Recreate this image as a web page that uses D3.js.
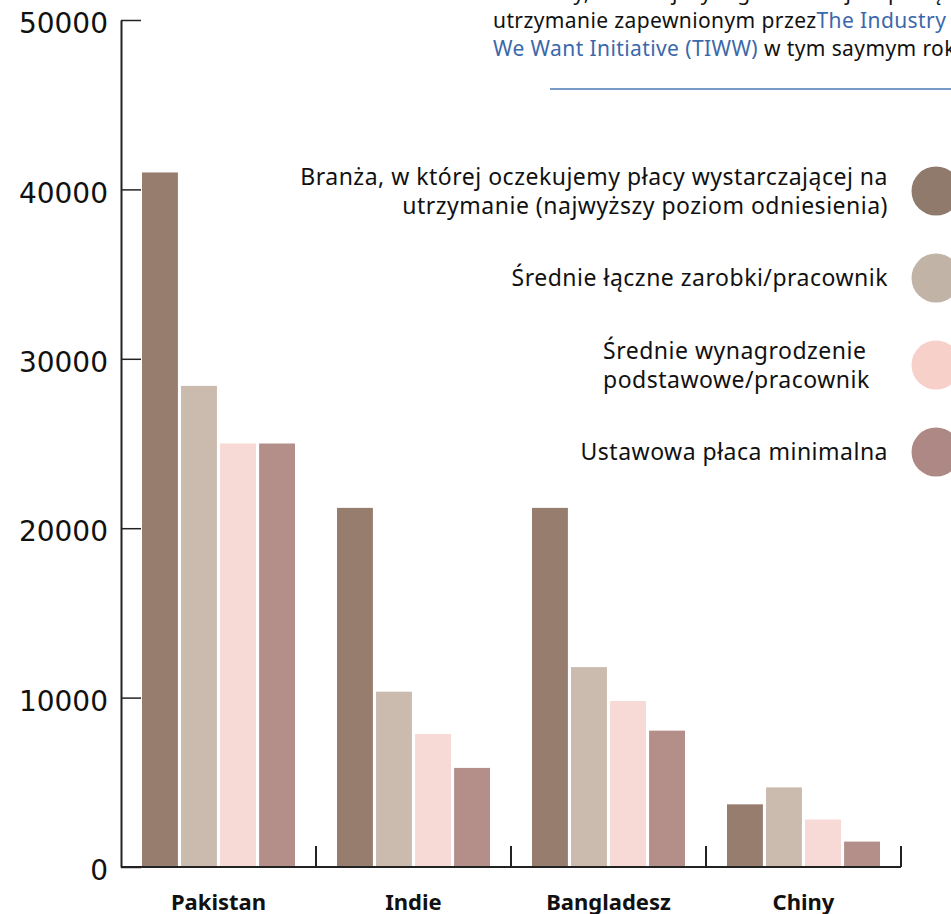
<!DOCTYPE html>
<html>
<head>
<meta charset="utf-8">
<script src="https://cdn.jsdelivr.net/npm/d3@7"></script>
<style>
  html, body { margin: 0; padding: 0; background: #fff; }
  svg { display: block; font-family: "Noto Sans", sans-serif; }
</style>
</head>
<body>
<svg id="chart" width="951" height="914"></svg>
<script>
// ---- data ----
const categories = ["Pakistan", "Indie", "Bangladesz", "Chiny"];
const seriesKeys = ["living", "earnings", "basic", "minimum"];
const livingWage   = [41000, 21200, 21200, 3700];
const avgEarnings  = [28400, 10350, 11800, 4700];
const avgBasic     = [25000, 7850, 9800, 2800];
const minimumWage  = [25000, 5850, 8050, 1500];
const yTicks = [0, 10000, 20000, 30000, 40000, 50000];
const legendLabels = [
  ["Branża, w której oczekujemy płacy wystarczającej na", "utrzymanie (najwyższy poziom odniesienia)"],
  ["Średnie łączne zarobki/pracownik"],
  ["Średnie wynagrodzenie", "podstawowe/pracownik"],
  ["Ustawowa płaca minimalna"]
];
const barColors = ["#977D6E", "#CBBBAF", "#F7D9D5", "#B48F8A"];
const legendColors = ["#8F7A6C", "#C2B3A7", "#F7D0C9", "#AD8885"];

const seriesValues = [livingWage, avgEarnings, avgBasic, minimumWage];
const rows = categories.map((c, i) => ({
  cat: c,
  vals: seriesKeys.map((k, j) => ({ key: k, j, value: seriesValues[j][i] }))
}));

const svg = d3.select("#chart");

// ---- scales ----
const y = d3.scaleLinear().domain([0, 50000]).range([867, 20]);
const x0 = d3.scaleBand().domain(categories).range([121, 901]).padding(0);
const x1 = d3.scaleBand().domain(seriesKeys).range([21, 174]).paddingInner(0.08);
const color = d3.scaleOrdinal().domain(seriesKeys).range(barColors);

// ---- header text (cut at top) ----
const hdr = svg.append("g").attr("font-size", 21).attr("letter-spacing", 0.4).attr("fill", "#111");
hdr.append("text").attr("x", 493).attr("y", 0)
  .text("w branży, w której wynagrodzenie jest płacą wystarczającą na");
const l1 = hdr.append("text").attr("x", 493).attr("y", 28);
l1.append("tspan").text("utrzymanie zapewnionym przez");
l1.append("tspan").attr("fill", "#3B68AA").text("The Industry");
const l2 = hdr.append("text").attr("x", 493).attr("y", 56);
l2.append("tspan").attr("fill", "#3B68AA").text("We Want Initiative (TIWW)");
l2.append("tspan").text(" w tym saymym roku");
svg.append("line").attr("x1", 550).attr("x2", 951).attr("y1", 89).attr("y2", 89)
  .attr("stroke", "#4B78B4").attr("stroke-width", 1.5);

// ---- bars ----
const groups = svg.append("g").selectAll("g").data(rows).join("g")
  .attr("transform", d => `translate(${x0(d.cat)},0)`);
groups.selectAll("rect").data(d => d.vals).join("rect")
  .attr("x", d => x1(d.key))
  .attr("width", x1.bandwidth())
  .attr("y", d => y(d.value))
  .attr("height", d => y(0) - y(d.value))
  .attr("fill", d => color(d.key));

// ---- y axis ----
const yAxis = d3.axisLeft(y).tickValues(yTicks).tickSizeInner(-20).tickSizeOuter(0).tickPadding(13)
  .tickFormat(d3.format("d"));
const gy = svg.append("g").attr("transform", "translate(121,0)").call(yAxis);
gy.select(".domain").attr("stroke", "#222").attr("stroke-width", 2);
gy.selectAll(".tick line").attr("stroke", "#222").attr("stroke-width", 1.5);
gy.selectAll(".tick text").attr("font-family", "DejaVu Sans").attr("font-size", 28)
  .attr("fill", "#111").attr("dy", "0.45em");

// ---- x axis ----
const gx = svg.append("g");
gx.append("line").attr("x1", 121).attr("x2", 901).attr("y1", y(0)).attr("y2", y(0))
  .attr("stroke", "#222").attr("stroke-width", 2);
gx.selectAll(".sep").data(categories).join("line").attr("class", "sep")
  .attr("x1", d => x0(d) + x0.bandwidth()).attr("x2", d => x0(d) + x0.bandwidth())
  .attr("y1", y(0)).attr("y2", y(0) - 21)
  .attr("stroke", "#222").attr("stroke-width", 2);
gx.selectAll(".lab").data(categories).join("text").attr("class", "lab")
  .attr("x", d => x0(d) + x0.bandwidth() / 2).attr("y", 910)
  .attr("text-anchor", "middle").attr("font-weight", "bold").attr("font-size", 22)
  .attr("fill", "#111").text(d => d);

// ---- legend ----
const legCy = [191, 278, 365, 452];
const legAnchor = ["end", "end", "start", "end"];
const legX = [888, 888, 603, 888];
const leg = svg.append("g").selectAll("g").data(legendLabels).join("g");
leg.append("circle").attr("cx", 936).attr("cy", (d, i) => legCy[i]).attr("r", 24.5)
  .attr("fill", (d, i) => legendColors[i]);
leg.each(function(lines, i) {
  const g = d3.select(this);
  lines.forEach((t, k) => {
    g.append("text")
      .attr("x", legX[i])
      .attr("y", legCy[i] + 8 + (k - (lines.length - 1) / 2) * 29)
      .attr("text-anchor", legAnchor[i])
      .attr("font-size", 23).attr("letter-spacing", 0.5).attr("fill", "#111")
      .text(t);
  });
});
</script>
</body>
</html>
